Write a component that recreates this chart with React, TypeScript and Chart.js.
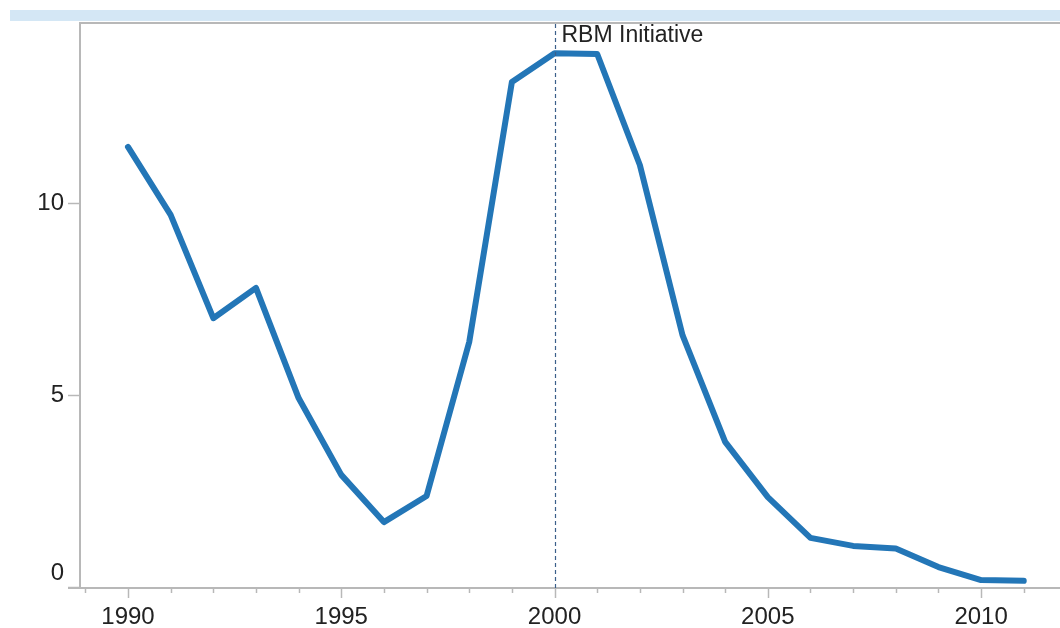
import React, { useEffect, useRef } from "react";
import { Chart, registerables } from "chart.js";

Chart.register(...registerables);

const years = [1990, 1991, 1992, 1993, 1994, 1995, 1996, 1997, 1998, 1999, 2000, 2001, 2002, 2003, 2004, 2005, 2006, 2007, 2008, 2009, 2010, 2011];
const values = [11.46, 9.69, 7.0, 7.79, 4.92, 2.92, 1.69, 2.37, 6.38, 13.15, 13.9, 13.88, 10.99, 6.56, 3.78, 2.34, 1.28, 1.07, 1.0, 0.52, 0.18, 0.16];
const xTickLabels = [1990, 1995, 2000, 2005, 2010];
const xMinorTicks = [1989, 1990, 1991, 1992, 1993, 1994, 1995, 1996, 1997, 1998, 1999, 2000, 2001, 2002, 2003, 2004, 2005, 2006, 2007, 2008, 2009, 2010, 2011];
const yTickLabels = [0, 5, 10];
const eventYear = 2000;
const eventLabel = "RBM Initiative";

const FONT = '"Liberation Sans", Arial, Helvetica, sans-serif';

const decorPlugin = {
  id: "decor",
  beforeDraw(chart: any) {
    const ctx = chart.ctx;
    const { left, right, top, bottom } = chart.chartArea;
    ctx.save();
    ctx.fillStyle = "#ffffff";
    ctx.fillRect(0, 0, chart.width, chart.height);
    // header band
    ctx.fillStyle = "#d4e7f5";
    ctx.fillRect(10, 10, chart.width - 10, 11);
    // frame
    ctx.strokeStyle = "#b8b8b8";
    ctx.lineWidth = 2;
    ctx.beginPath();
    ctx.moveTo(left, bottom);
    ctx.lineTo(left, top + 1);
    ctx.lineTo(right, top + 1);
    ctx.stroke();
    ctx.beginPath();
    ctx.moveTo(left - 12, bottom);
    ctx.lineTo(right, bottom);
    ctx.stroke();
    ctx.restore();
  },
  afterDatasetsDraw(chart: any) {
    const ctx = chart.ctx;
    const xs = chart.scales.x;
    const ys = chart.scales.y;
    const { left, top, bottom } = chart.chartArea;
    ctx.save();
    // x ticks
    ctx.strokeStyle = "#b8b8b8";
    ctx.lineWidth = 1.5;
    xMinorTicks.forEach((v) => {
      const px = Math.round(xs.getPixelForValue(v)) + 0.5;
      const major = xTickLabels.includes(v);
      ctx.beginPath();
      ctx.moveTo(px, bottom);
      ctx.lineTo(px, bottom + (major ? 10 : 5));
      ctx.stroke();
    });
    // y ticks
    yTickLabels.forEach((v) => {
      const py = Math.round(ys.getPixelForValue(v)) + 0.5;
      ctx.beginPath();
      ctx.moveTo(left - 12, py);
      ctx.lineTo(left, py);
      ctx.stroke();
    });
    // labels
    ctx.fillStyle = "#222222";
    ctx.font = `24px ${FONT}`;
    ctx.textAlign = "center";
    ctx.textBaseline = "middle";
    xTickLabels.forEach((v) => {
      ctx.fillText(String(v), xs.getPixelForValue(v), bottom + 29);
    });
    ctx.textAlign = "right";
    yTickLabels.forEach((v) => {
      let py = ys.getPixelForValue(v);
      if (v === 0) py -= 14;
      ctx.fillText(String(v), left - 16, py);
    });
    // event line
    const ex = Math.round(xs.getPixelForValue(eventYear)) + 0.5;
    ctx.strokeStyle = "#3b5f8a";
    ctx.lineWidth = 1.2;
    ctx.setLineDash([4, 3]);
    ctx.beginPath();
    ctx.moveTo(ex, top + 2);
    ctx.lineTo(ex, bottom);
    ctx.stroke();
    ctx.setLineDash([]);
    ctx.fillStyle = "#222222";
    ctx.font = `23px ${FONT}`;
    ctx.textAlign = "left";
    ctx.textBaseline = "middle";
    ctx.fillText(eventLabel, ex + 6, top + 14);
    ctx.restore();
  },
};

export default function App() {
  const ref = useRef<HTMLCanvasElement | null>(null);
  useEffect(() => {
    if (!ref.current) return;
    const chart = new Chart(ref.current, {
      type: "line",
      data: {
        datasets: [
          {
            data: years.map((y, i) => ({ x: y, y: values[i] })),
            borderColor: "#2376b7",
            borderWidth: 6,
            pointRadius: 0,
            tension: 0,
            borderCapStyle: "round",
            borderJoinStyle: "round",
            fill: false,
          },
        ],
      },
      options: {
        animation: false,
        responsive: false,
        maintainAspectRatio: false,
        devicePixelRatio: 1,
        layout: { padding: { left: 80, right: 0, top: 22, bottom: 40 } },
        plugins: { legend: { display: false }, tooltip: { enabled: false } },
        scales: {
          x: { type: "linear", display: false, min: 1988.875, max: 2011.85 },
          y: { type: "linear", display: false, min: -0.026, max: 14.714 },
        },
      },
      plugins: [decorPlugin],
    });
    return () => chart.destroy();
  }, []);
  return (
    <div style={{ position: "absolute", left: 0, top: 0, width: 1060, height: 628, background: "#fff" }}>
      <canvas ref={ref} width={1060} height={628} style={{ width: 1060, height: 628, display: "block" }} />
    </div>
  );
}
